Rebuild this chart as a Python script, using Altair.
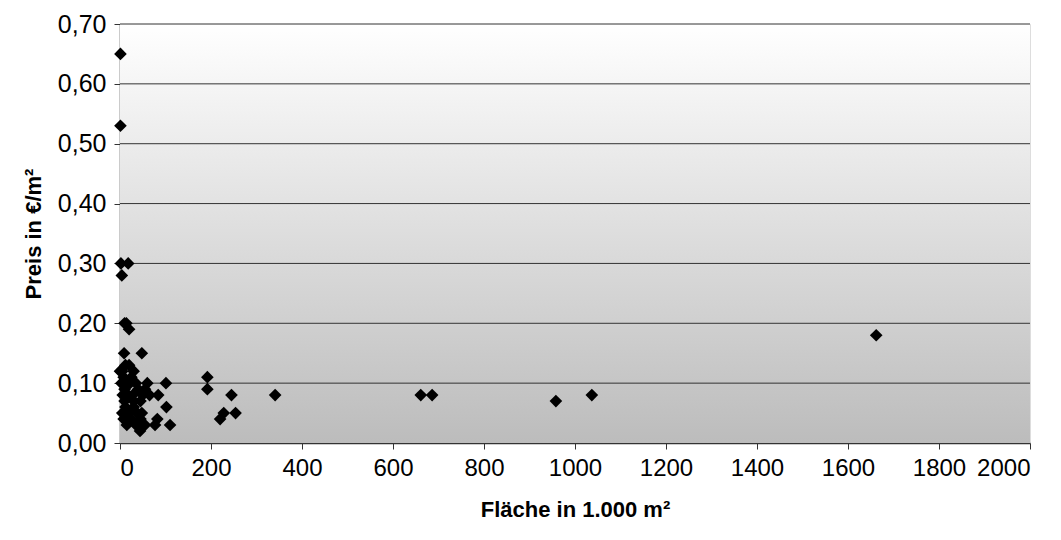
import altair as alt
import pandas as pd

flaeche = [1, 1, 2, 18, 4, 10, 14, 20, 9, 48, 0, 2,
           5, 12, 20, 30, 25, 8, 15, 3, 22, 35, 40, 55, 60, 50, 10, 6, 18, 28,
           45, 65, 84, 101, 102, 12, 30, 38, 5, 20, 45, 82, 8, 15, 25, 77, 110,
           44, 35, 55, 10, 30, 48,
           192, 192, 245, 220, 228, 254, 341, 661, 686, 958, 1037, 1662]
preis = [0.65, 0.53, 0.30, 0.30, 0.28, 0.20, 0.20, 0.19, 0.15, 0.15, 0.12, 0.12,
         0.12, 0.13, 0.13, 0.12, 0.11, 0.11, 0.10, 0.10, 0.10, 0.10, 0.09, 0.09, 0.10, 0.08, 0.09, 0.08, 0.08, 0.08,
         0.07, 0.08, 0.08, 0.10, 0.06, 0.06, 0.06, 0.05, 0.05, 0.05, 0.04, 0.04, 0.04, 0.03, 0.04, 0.03, 0.03,
         0.02, 0.03, 0.03, 0.07, 0.07, 0.05,
         0.11, 0.09, 0.08, 0.04, 0.05, 0.05, 0.08, 0.08, 0.08, 0.07, 0.08, 0.18]

x_ticks = [0, 200, 400, 600, 800, 1000, 1200, 1400, 1600, 1800, 2000]
y_ticks = [0.0, 0.1, 0.2, 0.3, 0.4, 0.5, 0.6, 0.7]
grid_vals = [0.1, 0.2, 0.3, 0.4, 0.5, 0.6, 0.7]

df = pd.DataFrame({"Fläche": flaeche, "Preis": preis})
gdf = pd.DataFrame({"Preis": grid_vals})

W, H = 910, 419
FONT = "Liberation Sans"

yscale = alt.Scale(domain=[0, 0.7], nice=False, zero=True)

bg = alt.Chart(pd.DataFrame({"a": [0]})).mark_rect(
    color=alt.LinearGradient(
        gradient="linear",
        stops=[alt.GradientStop(color="#ffffff", offset=0),
               alt.GradientStop(color="#bcbcbc", offset=1)],
        x1=0, x2=0, y1=0, y2=1,
    )
).encode(x=alt.value(0), x2=alt.value(W), y=alt.value(0), y2=alt.value(H))

grid = alt.Chart(gdf).mark_rule(color="#333333", strokeWidth=1).encode(
    y=alt.Y("Preis:Q", scale=yscale),
    x=alt.value(0), x2=alt.value(W),
)

pts = alt.Chart(df).mark_point(
    shape="diamond", filled=True, color="#000000", size=160, opacity=1
).encode(
    x=alt.X("Fläche:Q",
            scale=alt.Scale(domain=[0, 2000], nice=False, zero=True),
            axis=alt.Axis(values=x_ticks, title="Fläche in 1.000 m²", grid=False,
                          format="d",
                          domain=True, domainColor="#333333", domainWidth=1.5,
                          tickColor="#333333", tickSize=6, labelPadding=7,
                          labelFontSize=24, labelFont=FONT, labelColor="#000000",
                          titleFont=FONT, titleFontSize=22, titleFontWeight="bold",
                          titleColor="#000000", titlePadding=19)),
    y=alt.Y("Preis:Q", scale=yscale,
            axis=alt.Axis(values=y_ticks, title="Preis in €/m²", grid=False,
                          labelExpr="replace(format(datum.value, '.2f'), '.', ',')",
                          domain=True, domainColor="#333333", domainWidth=1.5,
                          tickColor="#333333", tickSize=6, labelPadding=8,
                          labelFontSize=25, labelFont=FONT, labelColor="#000000",
                          titleFont=FONT, titleFontSize=22, titleFontWeight="bold",
                          titleColor="#000000", titlePadding=12)),
)

chart = alt.layer(bg, grid, pts).properties(
    width=W, height=H,
    autosize=alt.AutoSizeParams(type="none"),
    padding={"left": 120, "top": 24, "right": 31, "bottom": 97},
).configure_view(stroke=None).configure(background="#ffffff")

chart.save("out.html", embed_options={"renderer": "svg", "actions": False})
